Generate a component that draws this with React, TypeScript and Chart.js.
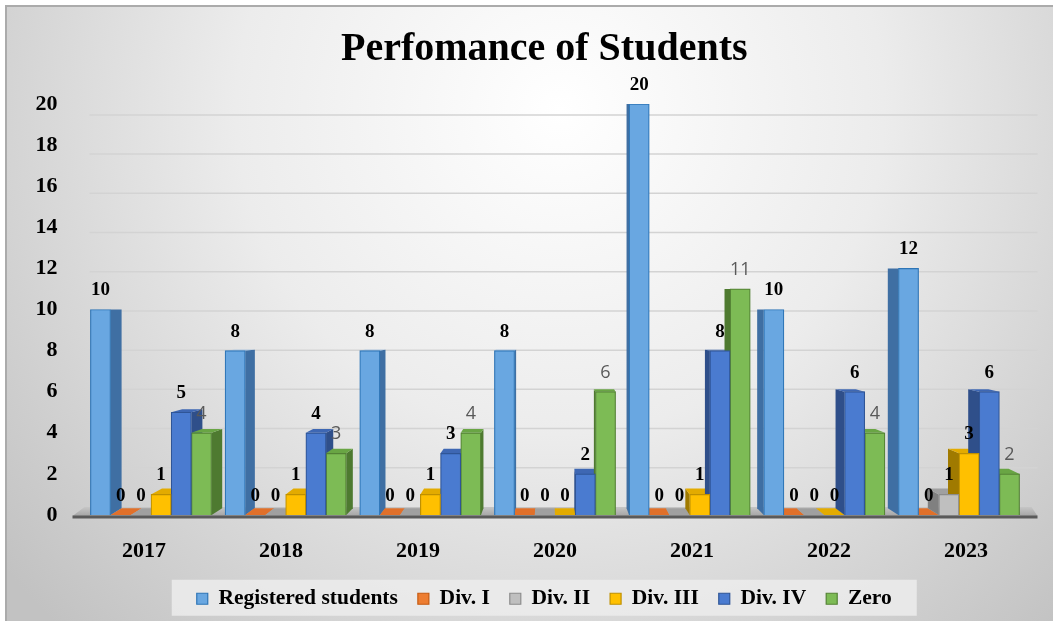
import React, { useEffect, useRef } from 'react';
import { Chart, registerables } from 'chart.js';

Chart.register(...registerables);

// ---------------- data ----------------
const categories = ['2017', '2018', '2019', '2020', '2021', '2022', '2023'];
const registeredStudents = [10, 8, 8, 8, 20, 10, 12];
const divI = [0, 0, 0, 0, 0, 0, 0];
const divII = [0, 0, 0, 0, 0, 0, 1];
const divIII = [1, 1, 1, 0, 1, 0, 3];
const divIV = [5, 4, 3, 2, 8, 6, 6];
const zeroDiv = [4, 3, 4, 6, 11, 4, 2];
const seriesNames = ['Registered students', 'Div. I', 'Div. II', 'Div. III', 'Div. IV', 'Zero'];
const seriesValues = [registeredStudents, divI, divII, divIII, divIV, zeroDiv];
const yMin = 0;
const yMax = 20;
const yStep = 2;
const chartTitle = 'Perfomance of Students';

// ---------------- styles ----------------
const frontColors = ['#69a7e1', '#ed7d31', '#bfbfbf', '#ffc000', '#4a7bd0', '#7dbb55'];
const borderColors = ['#2e75b6', '#c55a11', '#8c8c8c', '#bf9000', '#2f5597', '#548235'];
const sideColors = ['#3f6fa3', '#b85e24', '#808080', '#a07a00', '#2f4f8a', '#4e7a30'];
const topColors = ['#8fbde9', '#e0702a', '#a0a0a0', '#e3ab00', '#3e67b3', '#69a544'];
const SERIF = '"Liberation Serif", "Times New Roman", serif';
const SANS = '"Open Sans", "Liberation Sans", sans-serif';

const BAR_W = 20.2;
const yearNums = categories.map((c) => Number(c));

const clamp = (v: number, a: number, b: number) => Math.max(a, Math.min(b, v));

function depthDx(chart: any, x: number) {
  const ca = chart.chartArea;
  const vx = (ca.left + ca.right) / 2;
  return clamp(0.03 * (vx - x), -11, 11);
}
function depthDy(t: number) {
  return Math.max(0, 0.035 * (t - 324));
}

const backgroundPlugin = {
  id: 'bgFrame',
  afterLayout(chart: any) {
    const shift = 12;
    if (chart.legend) {
      chart.legend.left += shift;
      chart.legend.right += shift;
    }
    if (chart.titleBlock) {
      chart.titleBlock.left += shift;
      chart.titleBlock.right += shift;
    }
  },
  beforeDraw(chart: any) {
    const ctx = chart.ctx;
    const W = chart.width;
    const H = chart.height;
    ctx.save();
    ctx.fillStyle = '#ffffff';
    ctx.fillRect(0, 0, W, H);
    const g = ctx.createRadialGradient(560, 110, 0, 560, 110, 720);
    g.addColorStop(0, '#ffffff');
    g.addColorStop(0.45, '#ececec');
    g.addColorStop(1, '#c2c2c2');
    ctx.fillStyle = g;
    ctx.fillRect(6, 6, W - 14, H - 6);
    ctx.strokeStyle = '#ababab';
    ctx.lineWidth = 2;
    ctx.beginPath();
    ctx.moveTo(6, H);
    ctx.lineTo(6, 6);
    ctx.lineTo(W - 8, 6);
    ctx.stroke();
    // legend band
    const lg = chart.legend;
    if (lg && lg.legendHitBoxes && lg.legendHitBoxes.length) {
      const hb = lg.legendHitBoxes;
      const l = Math.min(...hb.map((b: any) => b.left)) - 25;
      const r = Math.max(...hb.map((b: any) => b.left + b.width)) + 25;
      const cy = hb[0].top + hb[0].height / 2;
      ctx.fillStyle = 'rgba(236,236,236,0.85)';
      ctx.fillRect(l, cy - 19, r - l, 36);
    }
    ctx.restore();
  },
};

const threeDPlugin = {
  id: 'threeD',
  beforeDatasetsDraw(chart: any) {
    const ctx = chart.ctx;
    const { left, right, bottom } = chart.chartArea;
    const ys = chart.scales.y;
    ctx.save();
    // back-wall gridlines
    ctx.strokeStyle = '#d3d3d3';
    ctx.lineWidth = 1.5;
    ys.ticks.forEach((t: any) => {
      if (t.value <= yMin) return;
      const yf = ys.getPixelForValue(t.value);
      const yb = bottom - 8 + 0.954 * (yf - bottom);
      ctx.beginPath();
      ctx.moveTo(left + 14, yb);
      ctx.lineTo(right + 3, yb);
      ctx.stroke();
    });
    // floor
    const fg = ctx.createLinearGradient(0, bottom - 9, 0, bottom);
    fg.addColorStop(0, '#c9c9c9');
    fg.addColorStop(1, '#a9a9a9');
    ctx.fillStyle = fg;
    ctx.beginPath();
    ctx.moveTo(left - 3, bottom + 1);
    ctx.lineTo(right + 3, bottom + 1);
    ctx.lineTo(right - 3, bottom - 8);
    ctx.lineTo(left + 9, bottom - 8);
    ctx.closePath();
    ctx.fill();
    ctx.strokeStyle = '#5a5a5a';
    ctx.lineWidth = 3;
    ctx.beginPath();
    ctx.moveTo(left - 3, bottom + 2);
    ctx.lineTo(right + 3, bottom + 2);
    ctx.stroke();
    // side and top faces
    chart.data.datasets.forEach((ds: any, di: number) => {
      const meta = chart.getDatasetMeta(di);
      if (meta.hidden) return;
      meta.data.forEach((el: any) => {
        const { x, y, base, width } = el.getProps(['x', 'y', 'base', 'width'], true);
        const l = x - width / 2;
        const r = x + width / 2;
        const dx = depthDx(chart, x);
        const dyT = depthDy(y);
        const dyB = depthDy(base);
        const edge = dx >= 0 ? r : l;
        if (base - y > 0.5) {
          ctx.fillStyle = sideColors[di];
          ctx.beginPath();
          ctx.moveTo(edge, y);
          ctx.lineTo(edge + dx, y - dyT);
          ctx.lineTo(edge + dx, base - dyB);
          ctx.lineTo(edge, base);
          ctx.closePath();
          ctx.fill();
        }
        if (dyT > 0.3) {
          ctx.fillStyle = topColors[di];
          ctx.beginPath();
          ctx.moveTo(l, y);
          ctx.lineTo(r, y);
          ctx.lineTo(r + dx, y - dyT);
          ctx.lineTo(l + dx, y - dyT);
          ctx.closePath();
          ctx.fill();
        }
      });
    });
    ctx.restore();
  },
  afterDatasetsDraw(chart: any) {
    const ctx = chart.ctx;
    ctx.save();
    ctx.textAlign = 'center';
    ctx.textBaseline = 'middle';
    chart.data.datasets.forEach((ds: any, di: number) => {
      const meta = chart.getDatasetMeta(di);
      if (meta.hidden) return;
      meta.data.forEach((el: any, i: number) => {
        const { x, y } = el.getProps(['x', 'y'], true);
        if (di === 5) {
          ctx.font = '18px ' + SANS;
          ctx.fillStyle = '#595959';
        } else {
          ctx.font = 'bold 19px ' + SERIF;
          ctx.fillStyle = '#000000';
        }
        ctx.fillText(String(seriesValues[di][i]), x, y - 19);
      });
    });
    ctx.restore();
  },
};

export default function App() {
  const canvasRef = useRef<HTMLCanvasElement | null>(null);

  useEffect(() => {
    document.body.style.margin = '0';
    const canvas = canvasRef.current;
    if (!canvas) return;
    const datasets = seriesNames.map((name, di) => ({
      label: name,
      data: seriesValues[di].map((v, i) => ({ x: yearNums[i], y: v })),
      backgroundColor: frontColors[di],
      borderColor: borderColors[di],
      borderWidth: 1.2,
      borderSkipped: 'start' as const,
      barThickness: BAR_W,
      xAxisID: 'x',
      yAxisID: 'y',
    }));
    const chart = new Chart(canvas, {
      type: 'bar',
      data: { labels: categories, datasets },
      options: {
        responsive: false,
        animation: false,
        devicePixelRatio: 1,
        layout: { padding: { left: 30, right: 26.5, top: 0, bottom: 1.5 } },
        plugins: {
          title: {
            display: true,
            text: chartTitle,
            color: '#000000',
            font: { family: SERIF, size: 40, weight: 'bold', lineHeight: 1.2 },
            padding: { top: 26, bottom: 30 },
          },
          legend: {
            display: true,
            position: 'bottom',
            labels: {
              boxWidth: 11,
              boxHeight: 11,
              padding: 20,
              color: '#000000',
              font: { family: SERIF, size: 21.5, weight: 'bold' },
            },
          },
          tooltip: { enabled: false },
        },
        scales: {
          x: {
            type: 'linear',
            display: false,
            offset: false,
            grid: { offset: false },
            min: yearNums[0] - 0.5606,
            max: yearNums[yearNums.length - 1] + 0.5606,
            ticks: { stepSize: 1 },
          },
          xl: {
            type: 'category',
            position: 'bottom',
            offset: true,
            grid: { display: false },
            border: { display: false },
            ticks: {
              padding: 15,
              color: '#000000',
              font: { family: SERIF, size: 22, weight: 'bold' },
            },
            afterFit: (s: any) => {
              s.height = 53;
            },
          },
          y: {
            type: 'linear',
            min: yMin,
            max: yMax,
            grid: { display: false, drawTicks: false },
            border: { display: false },
            ticks: {
              stepSize: yStep,
              padding: 18,
              color: '#000000',
              font: { family: SERIF, size: 22, weight: 'bold' },
            },
            afterFit: (s: any) => {
              s.width = 45.5;
            },
          },
        },
      },
      plugins: [backgroundPlugin, threeDPlugin],
    });
    return () => {
      chart.destroy();
    };
  }, []);

  return (
    <div style={{ width: 1061, height: 621 }}>
      <canvas ref={canvasRef} width={1061} height={621} style={{ display: 'block' }} />
    </div>
  );
}
